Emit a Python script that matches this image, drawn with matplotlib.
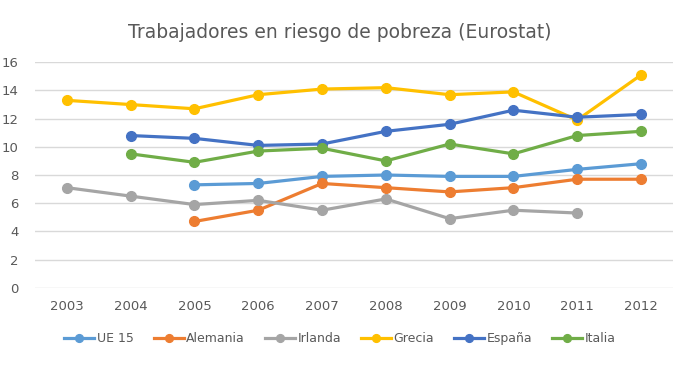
import matplotlib.pyplot as plt
import numpy as np

years = ['2003', '2004', '2005', '2006', '2007', '2008', '2009', '2010', '2011', '2012']
nan = np.nan

ue15     = [nan, nan, 7.3, 7.4, 7.9, 8.0, 7.9, 7.9, 8.4, 8.8]
alemania = [nan, nan, 4.7, 5.5, 7.4, 7.1, 6.8, 7.1, 7.7, 7.7]
irlanda  = [7.1, 6.5, 5.9, 6.2, 5.5, 6.3, 4.9, 5.5, 5.3, nan]
grecia   = [13.3, 13.0, 12.7, 13.7, 14.1, 14.2, 13.7, 13.9, 11.9, 15.1]
espana   = [nan, 10.8, 10.6, 10.1, 10.2, 11.1, 11.6, 12.6, 12.1, 12.3]
italia   = [nan, 9.5, 8.9, 9.7, 9.9, 9.0, 10.2, 9.5, 10.8, 11.1]

series = [
    ('UE 15', ue15, '#5B9BD5'),
    ('Alemania', alemania, '#ED7D31'),
    ('Irlanda', irlanda, '#A5A5A5'),
    ('Grecia', grecia, '#FFC000'),
    ('España', espana, '#4472C4'),
    ('Italia', italia, '#70AD47'),
]

fig = plt.figure(figsize=(6.8, 3.65), dpi=100)
ax = fig.add_axes([0.0515, 0.2118, 0.938, 0.6175])

x = np.arange(len(years))
for name, vals, col in series:
    ax.plot(x, vals, color=col, lw=2.3, marker='o', markersize=7, label=name)

ax.set_xlim(-0.5, len(years) - 0.5)
ax.set_ylim(0, 16)
ax.set_yticks(range(0, 17, 2))
ax.set_xticks(x)
ax.set_xticklabels(years)
ax.yaxis.grid(True, color='#D9D9D9', lw=1)
ax.set_axisbelow(True)
for s in ax.spines.values():
    s.set_visible(False)
ax.tick_params(length=0, colors='#595959', labelsize=9.5)
ax.tick_params(axis='x', pad=9)
ax.tick_params(axis='y', pad=12)

fig.text(0.5, 0.912, 'Trabajadores en riesgo de pobreza (Eurostat)', ha='center', va='center',
         fontsize=13.5, color='#595959')

fig.legend(loc='center', bbox_to_anchor=(0.5, 0.072), ncol=6, frameon=False,
           fontsize=9, labelcolor='#595959', handlelength=2.4, columnspacing=1.6,
           handletextpad=0.2, markerscale=0.8)

fig.savefig('out.png', dpi=100)
